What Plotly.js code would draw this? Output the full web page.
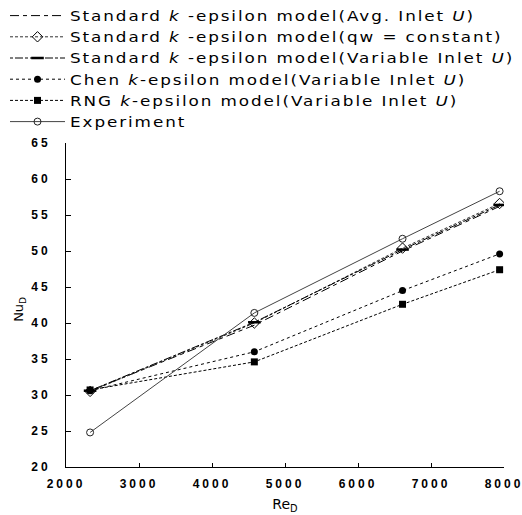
<!DOCTYPE html>
<html>
<head>
<meta charset="utf-8">
<script src="https://cdn.plot.ly/plotly-3.0.1.min.js"></script>
<style>
  html, body { margin: 0; padding: 0; background: #fff; }
  #chart { width: 522px; height: 515px; }
  .xtick text, .ytick text { letter-spacing: 3px; }
  .legendtext { letter-spacing: 1.6px; transform-box: fill-box; transform-origin: left center; transform: scaleX(1.2); }
</style>
</head>
<body>
<div id="chart"></div>
<script>
// ---- data ----
const reynolds = [2330, 4580, 6610, 7940];
const stdAvgInlet = [30.6, 39.7, 50.0, 56.2];
const stdQwConst = [30.5, 40.0, 50.4, 56.6];
const stdVarInlet = [30.6, 40.1, 50.2, 56.4];
const chenVarInlet = [30.6, 36.0, 44.5, 49.6];
const rngVarInlet = [30.7, 34.6, 42.6, 47.4];
const experiment = [24.8, 41.4, 51.7, 58.3];

const seriesNames = [
  'Standard <i>k</i> -epsilon model(Avg. Inlet <i>U</i>)',
  'Standard <i>k</i> -epsilon model(qw = constant)',
  'Standard <i>k</i> -epsilon model(Variable Inlet <i>U</i>)',
  'Chen <i>k</i>-epsilon model(Variable Inlet <i>U</i>)',
  'RNG <i>k</i>-epsilon model(Variable Inlet <i>U</i>)',
  'Experiment'
];
const xTitle = 'Re<sub>D</sub>';
const yTitle = 'Nu<sub>D</sub>';

const xTickVals = [2000, 3000, 4000, 5000, 6000, 7000, 8000];
const yTickVals = [20, 25, 30, 35, 40, 45, 50, 55, 60, 65];

const traces = [
  { x: reynolds, y: stdAvgInlet, name: seriesNames[0], mode: 'lines',
    line: { color: '#000', width: 1, dash: '9px,4px,4px,4px' } },
  { x: reynolds, y: stdQwConst, name: seriesNames[1], mode: 'lines+markers',
    line: { color: '#333', width: 1, dash: '3px,2px' },
    marker: { symbol: 'diamond-open', size: 8, color: '#000', line: { width: 1 } } },
  { x: reynolds, y: stdVarInlet, name: seriesNames[2], mode: 'lines+markers',
    line: { color: '#000', width: 1, dash: '3px,2px,8px,2px' },
    marker: { symbol: 'line-ew', size: 9, color: '#000', line: { width: 2.5, color: '#000' } } },
  { x: reynolds, y: chenVarInlet, name: seriesNames[3], mode: 'lines+markers',
    line: { color: '#000', width: 1, dash: '3px,3px' },
    marker: { symbol: 'circle', size: 7, color: '#000' } },
  { x: reynolds, y: rngVarInlet, name: seriesNames[4], mode: 'lines+markers',
    line: { color: '#000', width: 1, dash: '3px,2px' },
    marker: { symbol: 'square', size: 7, color: '#000' } },
  { x: reynolds, y: experiment, name: seriesNames[5], mode: 'lines+markers',
    line: { color: '#444', width: 1 },
    marker: { symbol: 'circle-open', size: 7, color: '#222', line: { width: 1 } } }
];
traces.forEach((t, i) => { t.legendgroup = 'g' + i; });

const layout = {
  width: 522, height: 515,
  margin: { l: 66, r: 18, t: 143, b: 48, autoexpand: false },
  paper_bgcolor: '#fff', plot_bgcolor: '#fff',
  font: { family: 'DejaVu Sans, sans-serif', color: '#000' },
  showlegend: true,
  legend: {
    xref: 'container', yref: 'container',
    x: 0.0096, xanchor: 'left', y: 1, yanchor: 'top',
    font: { family: 'DejaVu Sans, sans-serif', size: 14, color: '#000' },
    bgcolor: 'rgba(0,0,0,0)', borderwidth: 0,
    traceorder: 'grouped', tracegroupgap: 0, itemwidth: 55
  },
  xaxis: {
    range: [2000, 8000], tickvals: xTickVals, ticktext: xTickVals.map(String),
    showgrid: false, zeroline: false, showline: true, linecolor: '#000', linewidth: 1,
    ticks: 'inside', ticklen: 4, tickcolor: '#000', ticklabeloverflow: 'allow',
    tickfont: { family: 'Liberation Sans, Arial, sans-serif', size: 12, weight: 'bold' },
    ticklabelstandoff: 6,
    title: { text: xTitle, font: { family: 'DejaVu Sans, sans-serif', size: 14 }, standoff: 8 }
  },
  yaxis: {
    range: [20, 65], tickvals: yTickVals, ticktext: yTickVals.map(String),
    showgrid: false, zeroline: false, showline: true, linecolor: '#000', linewidth: 1,
    ticks: 'inside', ticklen: 5, tickcolor: '#000',
    tickfont: { family: 'Liberation Sans, Arial, sans-serif', size: 12, weight: 'bold' },
    ticklabelstandoff: 12
  },
  annotations: [{
    text: yTitle, xref: 'paper', yref: 'paper', x: -0.105, y: 0.485,
    xanchor: 'center', yanchor: 'middle', textangle: -90, showarrow: false,
    font: { family: 'DejaVu Sans, sans-serif', size: 13, color: '#000' }
  }]
};

Plotly.newPlot('chart', traces, layout, { displayModeBar: false, staticPlot: true });
</script>
</body>
</html>
